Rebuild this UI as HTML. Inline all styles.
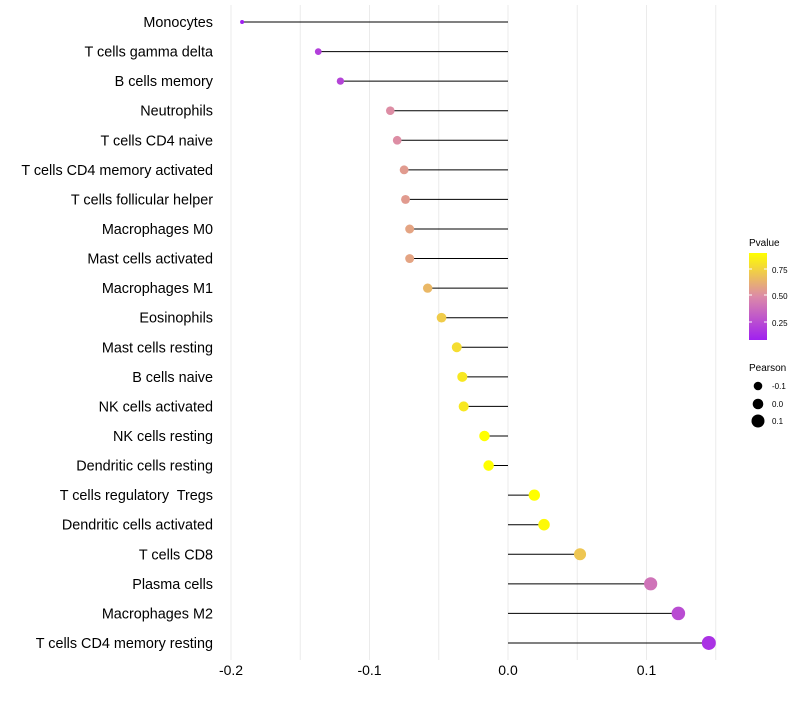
<!DOCTYPE html>
<html><head><meta charset="utf-8"><style>
body{margin:0;background:#fff;font-family:"Liberation Sans",sans-serif;}
text{white-space:pre;}
</style></head><body>
<svg id="chart" width="800" height="700" xmlns="http://www.w3.org/2000/svg" font-family="Liberation Sans, sans-serif">
<defs><linearGradient id="pg" x1="0" y1="1" x2="0" y2="0">
<stop offset="0" stop-color="#a020f0"/><stop offset="0.5" stop-color="#dc8aa8"/><stop offset="1" stop-color="#ffff00"/>
</linearGradient></defs>
<g id="grid"></g><g id="marks"></g><g id="ylabels"></g><g id="xlabels"></g>
<g>
<text x="749" y="246" font-size="10" fill="#000">Pvalue</text>
<rect x="749" y="253" width="18" height="87" fill="url(#pg)"/>
<line x1="749" y1="269" x2="752" y2="269" stroke="#fff"/><line x1="764" y1="269" x2="767" y2="269" stroke="#fff"/>
<line x1="749" y1="295" x2="752" y2="295" stroke="#fff"/><line x1="764" y1="295" x2="767" y2="295" stroke="#fff"/>
<line x1="749" y1="322" x2="752" y2="322" stroke="#fff"/><line x1="764" y1="322" x2="767" y2="322" stroke="#fff"/>
<text x="772" y="273" font-size="8">0.75</text><text x="772" y="299" font-size="8">0.50</text><text x="772" y="326" font-size="8">0.25</text>
<text x="749" y="371" font-size="10">Pearson</text>
<circle cx="758" cy="386" r="4.3" fill="#000"/><text x="772" y="389" font-size="8">-0.1</text>
<circle cx="758" cy="404" r="5.3" fill="#000"/><text x="772" y="407" font-size="8">0.0</text>
<circle cx="758" cy="421" r="6.5" fill="#000"/><text x="772" y="424" font-size="8">0.1</text>
</g>
</svg>
<script>
const cells=["Monocytes","T cells gamma delta","B cells memory","Neutrophils","T cells CD4 naive","T cells CD4 memory activated","T cells follicular helper","Macrophages M0","Mast cells activated","Macrophages M1","Eosinophils","Mast cells resting","B cells naive","NK cells activated","NK cells resting","Dendritic cells resting","T cells regulatory  Tregs","Dendritic cells activated","T cells CD8","Plasma cells","Macrophages M2","T cells CD4 memory resting"];
const pearson=[-0.192,-0.137,-0.121,-0.085,-0.080,-0.075,-0.074,-0.071,-0.071,-0.058,-0.048,-0.037,-0.033,-0.032,-0.017,-0.014,0.019,0.026,0.052,0.103,0.123,0.145];
const pvalue=[0.08,0.2,0.22,0.5,0.5,0.55,0.55,0.58,0.58,0.65,0.72,0.78,0.82,0.82,0.95,0.97,0.9,0.88,0.7,0.4,0.25,0.15];
const xticks=[-0.2,-0.1,0.0,0.1];
const xtickLabels=["-0.2","-0.1","0.0","0.1"];
const NS="http://www.w3.org/2000/svg";
const X=v=>508+v*1385;
const Y=i=>22+i*29.57;
function mk(t,a,p){const e=document.createElementNS(NS,t);for(const k in a)e.setAttribute(k,a[k]);p.appendChild(e);return e;}
function lerp(a,b,t){return a.map((v,i)=>Math.round(v+(b[i]-v)*t));}
function col(p){const t=Math.max(0,Math.min(1,(p-0.08)/(0.90-0.08)));const c0=[160,32,240],c1=[220,138,168],c2=[255,255,0];const c=t<0.5?lerp(c0,c1,t*2):lerp(c1,c2,(t-0.5)*2);return`rgb(${c})`;}
const pmin=Math.min(...pearson),pmax=Math.max(...pearson);
const R=v=>Math.sqrt(4+45*(v-pmin)/(pmax-pmin));
const grid=document.getElementById('grid');
for(let v=-0.2;v<=0.151;v+=0.05){const l=mk('line',{x1:X(v),x2:X(v),y1:5,y2:660,stroke:'#ebebeb','stroke-width':1},grid);

}
const marks=document.getElementById('marks'),yl=document.getElementById('ylabels'),xl=document.getElementById('xlabels');
cells.forEach((c,i)=>{
const s=mk('line',{x1:X(0),x2:X(pearson[i]),y1:Y(i),y2:Y(i),stroke:'#000','stroke-width':1},marks);


const d=mk('circle',{cx:X(pearson[i]),cy:Y(i),r:R(pearson[i]),fill:col(pvalue[i])},marks);


const t=mk('text',{x:213,y:Y(i)+5,'text-anchor':'end','font-size':14.4,fill:'#000'},yl);t.textContent=c;


});
xticks.forEach((v,i)=>{const t=mk('text',{x:X(v),y:675,'text-anchor':'middle','font-size':14,fill:'#000'},xl);t.textContent=xtickLabels[i];

});
</script>
</body></html>
